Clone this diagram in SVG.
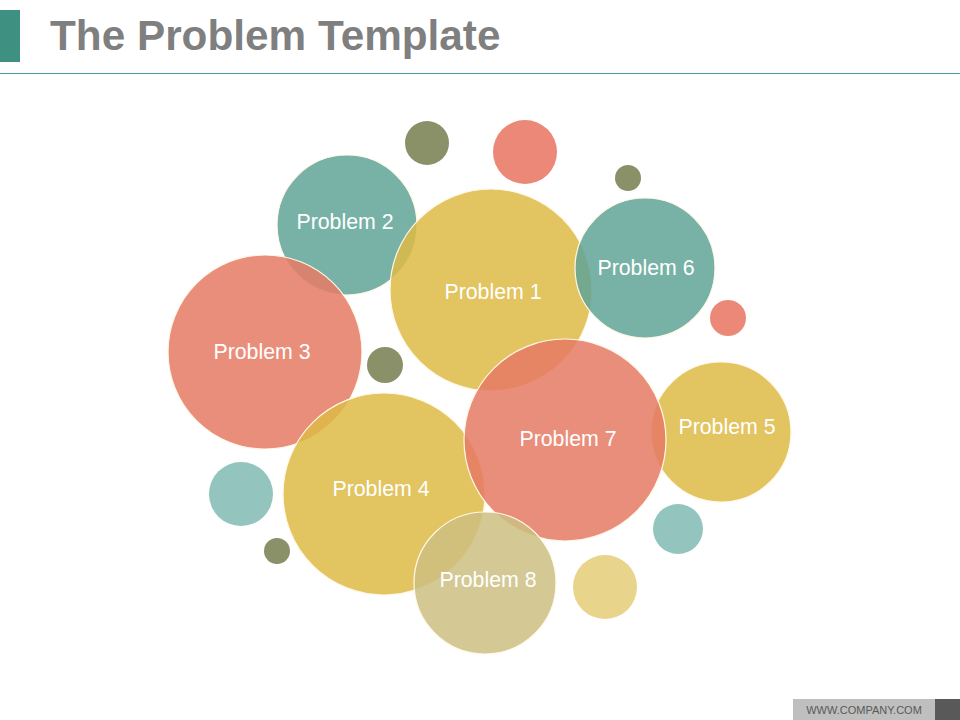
<svg xmlns="http://www.w3.org/2000/svg" width="960" height="720" viewBox="0 0 960 720">
<style>
.big{stroke:#FFF8E6;stroke-width:1.2;fill-opacity:0.85}
.teal{fill:#60A498}
.sal{fill:#E67A65}
.yel{fill:#DDBA45}
.kha{fill:#CCC081}
.lbl{font-family:"Liberation Sans",Arial,sans-serif;font-size:21.3px;fill:#FFFFFF;text-anchor:middle}
</style>
<rect width="960" height="720" fill="#FFFFFF"/>
<g id="header">
<rect x="0" y="10" width="20" height="52" fill="#3E9080"/>
<text x="50" y="50" font-family="Liberation Sans,Arial,sans-serif" font-weight="bold" font-size="42.3" fill="#7F7F7F">The Problem Template</text>
<line x1="0" y1="73.5" x2="960" y2="73.5" stroke="#4F9A9C" stroke-width="1"/>
</g>
<g id="dots">
<circle cx="427" cy="143" r="22" fill="#8A9068"/>
<circle cx="525" cy="152" r="32" fill="#EC8878"/>
<circle cx="628" cy="178" r="13" fill="#8A9068"/>
<circle cx="728" cy="318" r="18" fill="#EC8878"/>
<circle cx="385" cy="365" r="18" fill="#8A9068"/>
<circle cx="241" cy="494" r="32" fill="#93C5BE"/>
<circle cx="277" cy="551" r="13" fill="#8A9068"/>
<circle cx="678" cy="529" r="25" fill="#93C5BE"/>
<circle cx="605" cy="587" r="32" fill="#E8D48A"/>
</g>
<g id="connectors"></g>
<g id="p2"><circle class="big teal" cx="347" cy="225" r="70"/><text class="lbl" x="345" y="229">Problem 2</text></g>
<g id="p1"><circle class="big yel" cx="491" cy="290" r="101"/><text class="lbl" x="493" y="299">Problem 1</text></g>
<g id="p6"><circle class="big teal" cx="645" cy="268" r="70"/><text class="lbl" x="646" y="275">Problem 6</text></g>
<g id="p3"><circle class="big sal" cx="265" cy="352" r="97"/><text class="lbl" x="262" y="359">Problem 3</text></g>
<g id="p4"><circle class="big yel" cx="384" cy="494" r="101"/><text class="lbl" x="381" y="496">Problem 4</text></g>
<g id="p5"><circle class="big yel" cx="721" cy="432" r="70"/><text class="lbl" x="727" y="434">Problem 5</text></g>
<g id="p7"><circle class="big sal" cx="565" cy="440" r="101"/><text class="lbl" x="568" y="446">Problem 7</text></g>
<g id="p8"><circle class="big kha" cx="485" cy="583" r="71"/><text class="lbl" x="488" y="587">Problem 8</text></g>
<g id="footer">
<rect x="793" y="699" width="142" height="21" fill="#BFBFBF"/>
<rect x="935" y="699" width="25" height="21" fill="#595959"/>
<text x="864" y="714" font-family="Liberation Sans,Arial,sans-serif" font-size="11" fill="#595959" text-anchor="middle">WWW.COMPANY.COM</text>
</g>
</svg>
